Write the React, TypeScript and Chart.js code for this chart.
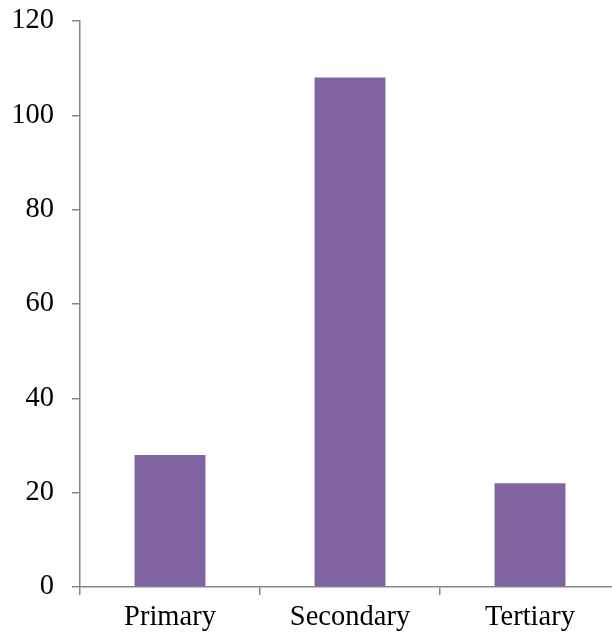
import React, { useEffect, useRef } from "react";
import { Chart, registerables } from "chart.js";

Chart.register(...registerables);

const categories = ["Primary", "Secondary", "Tertiary"];
const counts = [28, 108, 22];
const yTicks = [0, 20, 40, 60, 80, 100, 120];

const AXIS_GREY = "#868686";
const BAR_PURPLE = "#8064A2";
const FONT = { family: "'Liberation Serif', 'Times New Roman', serif", size: 28.5 };

export default function App() {
  const canvasRef = useRef<HTMLCanvasElement | null>(null);

  useEffect(() => {
    if (!canvasRef.current) return;
    const chart = new Chart(canvasRef.current, {
      type: "bar",
      data: {
        labels: categories,
        datasets: [
          {
            data: counts,
            backgroundColor: BAR_PURPLE,
            borderWidth: 0,
            categoryPercentage: 1,
            barPercentage: 0.394,
          },
        ],
      },
      options: {
        responsive: false,
        animation: false,
        layout: { padding: { top: 21, right: 0, bottom: 0, left: 0 } },
        plugins: { legend: { display: false }, tooltip: { enabled: false } },
        scales: {
          x: {
            grid: {
              display: true,
              drawOnChartArea: false,
              drawTicks: true,
              tickLength: 8,
              color: AXIS_GREY,
              lineWidth: 1.5,
            },
            border: { display: true, color: AXIS_GREY, width: 1.5 },
            ticks: { color: "#000", font: FONT, padding: 5, maxRotation: 0 },
            afterFit: (scale: any) => {
              scale.height = 53;
              scale.paddingLeft = 0;
              scale.paddingRight = 0;
            },
          },
          y: {
            min: 0,
            max: 120,
            afterBuildTicks: (scale: any) => {
              scale.ticks = yTicks.map((v) => ({ value: v }));
            },
            grid: {
              display: true,
              drawOnChartArea: false,
              drawTicks: true,
              tickLength: 8,
              color: AXIS_GREY,
              lineWidth: 1.5,
            },
            border: { display: true, color: AXIS_GREY, width: 1.5 },
            ticks: { color: "#000", font: FONT, padding: 18 },
            afterFit: (scale: any) => {
              scale.width = 80;
              scale.paddingTop = 0;
              scale.paddingBottom = 0;
            },
          },
        },
      },
    });
    return () => chart.destroy();
  }, []);

  return (
    <div
      style={{
        position: "fixed",
        left: 0,
        top: 0,
        width: 612,
        height: 640,
        overflow: "hidden",
        background: "#fff",
      }}
    >
      <canvas ref={canvasRef} width={620} height={640} style={{ display: "block" }} />
    </div>
  );
}
